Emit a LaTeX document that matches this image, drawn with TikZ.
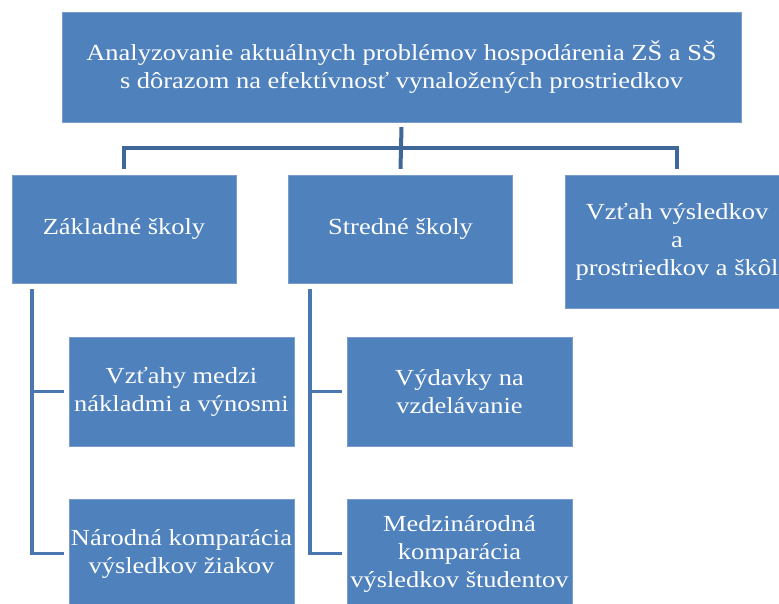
\documentclass[tikz,border=0pt]{standalone}
\usepackage{fontspec}
\setmainfont{Liberation Serif}[FakeStretch=1.15]
\usetikzlibrary{positioning}

\definecolor{boxblue}{HTML}{4F81BD}
\definecolor{boxedge}{HTML}{7A9CCB}
\definecolor{topline}{HTML}{3F6797}
\definecolor{subline}{HTML}{4A77B0}

\begin{document}
\begin{tikzpicture}[x=1pt,y=-1pt,
box/.style={draw=boxedge,fill=boxblue,thin,text=white,align=center,inner sep=0pt,
  font=\fontsize{23}{28}\selectfont},
topbox/.style={box,minimum width=679pt,minimum height=110pt},
midbox/.style={box,minimum width=224pt,minimum height=108pt},
subbox/.style={box,minimum width=225pt,minimum height=109pt},
mainconn/.style={draw=topline,line width=4pt},
subconn/.style={draw=subline,line width=3.5pt}]

\useasboundingbox (0,0) rectangle (779,603);
\clip (0,0) rectangle (779,603);

\draw (401.5,67) node[topbox] (top) {Analyzovanie aktuálnych problémov hospodárenia ZŠ a SŠ\\s dôrazom na efektívnosť vynaložených prostriedkov};
\draw (124,229) node[midbox] (zs) {Základné školy};
\draw (400.5,229) node[midbox] (ss) {Stredné školy};
\draw (677,241.5) node[box,minimum width=224pt,minimum height=133pt] (vz) {Vzťah výsledkov\\a\\prostriedkov a škôl};
\draw (181.5,391.5) node[subbox] (vm) {Vzťahy medzi\\nákladmi a výnosmi};
\draw (181.5,553.5) node[subbox] (nk) {Národná komparácia\\výsledkov žiakov};
\draw (459.5,391.5) node[subbox] (vv) {Výdavky na\\vzdelávanie};
\draw (459.5,553.5) node[subbox] (mk) {Medzinárodná\\komparácia\\výsledkov študentov};

% y axis points down, so a negative yshift moves up
\coordinate (bus) at (0,148);
\coordinate (zt) at ([xshift=-92pt,yshift=-6pt]zs.south);
\coordinate (st) at ([xshift=-90.5pt,yshift=-6pt]ss.south);

\draw[mainconn] ([yshift=-5pt]top.south) -- ([yshift=6pt]ss.north);
\draw[mainconn] ([yshift=6pt]zs.north) |- (bus -| top.south) -| ([yshift=6pt]vz.north);

\draw[subconn] (zt) |- ([xshift=-5pt]nk.west);
\draw[subconn] ([xshift=-5pt]vm.west) -- (vm.west -| zt);
\draw[subconn] (st) |- ([xshift=-5pt]mk.west);
\draw[subconn] ([xshift=-5pt]vv.west) -- (vv.west -| st);
\end{tikzpicture}
\end{document}
